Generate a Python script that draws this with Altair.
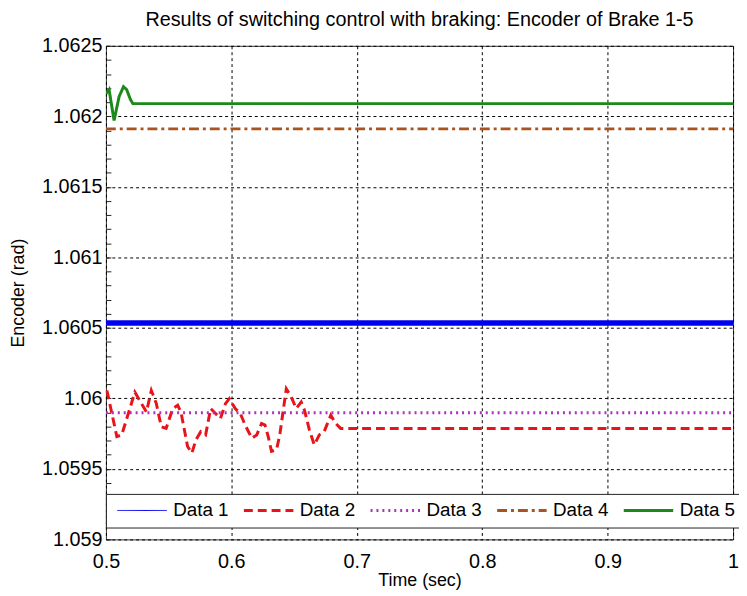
import altair as alt
import pandas as pd

series = ["Data 1", "Data 2", "Data 3", "Data 4", "Data 5"]
colors = ["#0000f0", "#e8141a", "#b22fc0", "#a9531e", "#1b8a1b"]
dashes = [[1, 0], [9, 5], [2, 4], [10, 4, 3, 4], [1, 0]]
legend_widths = [1, 3, 3, 3, 3]

t1 = [0.5, 1.0]
v1 = [1.060535, 1.060535]

t2 = [0.5008, 0.5087, 0.5126, 0.5231, 0.5283, 0.5323, 0.5362, 0.5402, 0.5441, 0.5480,
      0.5533, 0.5572, 0.5598, 0.5651, 0.5685, 0.5717, 0.5756, 0.5795, 0.5835, 0.5874,
      0.5913, 0.5953, 0.5984, 0.6031, 0.6071, 0.6110, 0.6163, 0.6202, 0.6241, 0.6268,
      0.6294, 0.6320, 0.6360, 0.6386, 0.6438, 0.6478, 0.6517, 0.6557, 0.6583, 0.6622,
      0.6661, 0.6701, 0.6740, 0.6793, 0.6832, 0.6871, 1.0]
v2 = [1.060056, 1.059729, 1.059741, 1.060044, 1.059963, 1.059904, 1.060056, 1.059963, 1.059799, 1.059787,
      1.059928, 1.059951, 1.059904, 1.059659, 1.059612, 1.059705, 1.059764, 1.059741, 1.059928, 1.059893,
      1.059857, 1.059963, 1.059998, 1.059928, 1.059893, 1.059811, 1.059717, 1.059741, 1.059822, 1.059811,
      1.059729, 1.059624, 1.059635, 1.059741, 1.060068, 1.060009, 1.059928, 1.059974, 1.059916, 1.059776,
      1.059670, 1.059741, 1.059764, 1.059881, 1.059822, 1.059787, 1.059787]

t3 = [0.5, 1.0]
v3 = [1.059898, 1.059898]

t4 = [0.5, 1.0]
v4 = [1.061911, 1.061911]

t5 = [0.5, 0.5025, 0.5065, 0.5105, 0.514, 0.5165, 0.5195, 0.5215, 1.0]
v5 = [1.06216, 1.06219, 1.06197, 1.06214, 1.06221, 1.06219, 1.06212, 1.06209, 1.06209]

x_ticks = [0.5, 0.6, 0.7, 0.8, 0.9, 1.0]
y_ticks = [round(1.059 + 0.0001 * k, 4) for k in range(36)]

title_text = "Results of switching control with braking: Encoder of Brake 1-5"

rows = []
for name, ts, vs in zip(series, [t1, t2, t3, t4, t5], [v1, v2, v3, v4, v5]):
    for i, (t, v) in enumerate(zip(ts, vs)):
        rows.append({"series": name, "t": t, "v": v, "i": i})
df = pd.DataFrame(rows)

FONT = "Liberation Sans"

legend = alt.Legend(
    title=None,
    orient="none",
    legendX=0,
    legendY=453,
    direction="horizontal",
    columns=5,
    fillColor="white",
    strokeColor="#222222",
    padding=7,
    columnPadding=9,
    labelOffset=42,
    labelFontSize=19,
    labelFont=FONT,
    labelColor="black",
    labelLimit=200,
    symbolType="M-1,0H9",
    symbolSize=100,
    gridAlign="all",
)

major_test = "abs(datum.value*2000 - round(datum.value*2000)) < 0.001"

x_axis = alt.Axis(values=x_ticks, format="~g", title="Time (sec)",
                  grid=True, gridDash=[3, 3], gridColor="black", gridOpacity=1,
                  domain=False, ticks=False, labelPadding=12, labelFlush=False,
                  labelOverlap=False,
                  labelFontSize=20, labelFont=FONT, labelColor="black",
                  titleFontSize=18, titleFont=FONT, titleFontWeight="normal",
                  titleColor="black", titlePadding=1)
y_axis = alt.Axis(values=y_ticks,
                  labelExpr=f"({major_test}) ? format(datum.value, '.4~f') : ''",
                  title="Encoder (rad)",
                  grid=True, gridDash=[3, 3], gridColor="black",
                  gridOpacity={"condition": {"test": major_test, "value": 1}, "value": 0},
                  domain=False, ticks=True, tickSize=5, tickColor="#222222",
                  offset=-5, labelPadding=4, labelFlush=False,
                  labelFontSize=20, labelFont=FONT, labelColor="black",
                  titleFontSize=18, titleFont=FONT, titleFontWeight="normal",
                  titleColor="black", titlePadding=14)

x_scale = alt.Scale(domain=[0.5, 1.0], nice=False, zero=False)
y_scale = alt.Scale(domain=[1.059, 1.0625], nice=False, zero=False)

base = alt.Chart(df)

lines = base.mark_line(clip=True).encode(
    x=alt.X("t:Q", scale=x_scale, axis=x_axis),
    y=alt.Y("v:Q", scale=y_scale, axis=y_axis),
    color=alt.Color("series:N", scale=alt.Scale(domain=series, range=colors), legend=legend),
    strokeDash=alt.StrokeDash("series:N", scale=alt.Scale(domain=series, range=dashes), legend=legend),
    strokeWidth=alt.StrokeWidth("series:N",
                                scale=alt.Scale(type="ordinal", domain=series, range=legend_widths),
                                legend=legend),
    order="i:Q",
)

thick1 = base.transform_filter(alt.datum.series == series[0]).mark_line(
    clip=True, strokeWidth=5.5, color=colors[0]
).encode(
    x=alt.X("t:Q", scale=x_scale, axis=x_axis),
    y=alt.Y("v:Q", scale=y_scale, axis=y_axis),
    order="i:Q",
)

chart = alt.layer(lines, thick1).properties(
    width=634,
    height=499,
    title=alt.Title(title_text, fontSize=20, font=FONT, fontWeight="normal",
                    color="black", anchor="middle", offset=6),
).configure(
    autosize=alt.AutoSizeParams(type="none"),
    padding={"left": 99, "top": 35, "right": 6, "bottom": 54},
).configure_view(
    stroke="#333333", strokeWidth=1,
)

chart.save("out.html", embed_options={"renderer": "svg", "actions": False})
